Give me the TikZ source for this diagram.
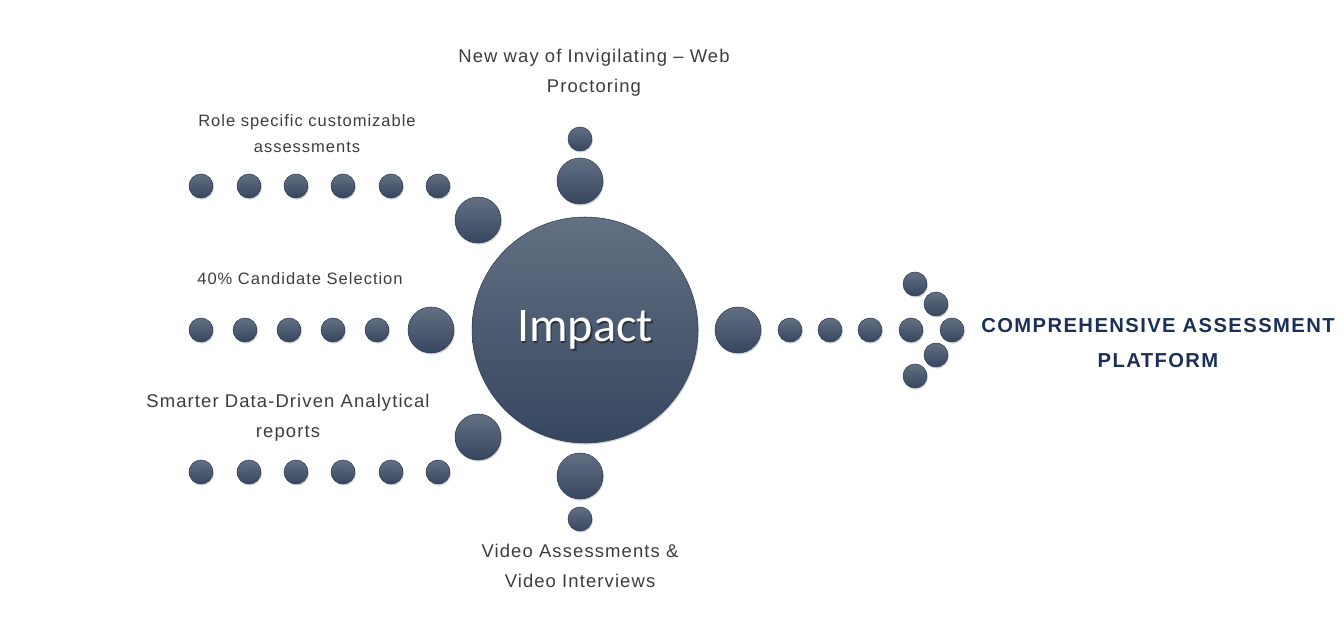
\documentclass[tikz,border=0pt]{standalone}
\usepackage{fontspec}
\setmainfont{Liberation Sans}
\newfontfamily\labelfont[LetterSpace=6]{Liberation Sans}
\newfontfamily\titlefont[LetterSpace=7]{Liberation Sans}
\newfontfamily\impactfont{Carlito}
\usetikzlibrary{shadows}
\definecolor{dottop}{HTML}{637083}
\definecolor{dotbottom}{HTML}{36465F}
\definecolor{dotline}{HTML}{2E3B50}
\definecolor{labelgray}{HTML}{3C3C3C}
\definecolor{navy}{HTML}{1B2F57}
\tikzset{
  dot/.style={circle,draw=dotline,line width=0.3pt,inner sep=0pt,
    top color=dottop,bottom color=dotbottom,minimum size=#1*0.02cm,
    drop shadow={shadow xshift=0.5pt,shadow yshift=-0.9pt,opacity=0.35}},
  label/.style={text=labelgray,align=center,
    font=\labelfont\fontsize{10.5}{17}\selectfont},
  smalllabel/.style={label,font=\labelfont\fontsize{9.4}{14.7}\selectfont},
}
\begin{document}
\begin{tikzpicture}[x=0.02cm,y=-0.02cm]
\useasboundingbox (0,0) rectangle (1344,628);
% centre
\node[dot=226] (impact) at (585,330) {};
\node[text=black,opacity=0.45,font=\impactfont\fontsize{27.5}{27.5}\selectfont]
  at ([xshift=0.8pt,yshift=-0.9pt]impact.center) {Impact};
\node[text=white,font=\impactfont\fontsize{27.5}{27.5}\selectfont]
  (impacttext) at (impact.center) {Impact};
% inner ring
\node[dot=46] (top) at (580,181) {};
\node[dot=24] (topsmall) at (580,139) {};
\node[dot=46] (bottom) at (580,476) {};
\node[dot=24] (bottomsmall) at (580,519) {};
\node[dot=46] (upleft) at (478,220) {};
\node[dot=46] (left) at (431,330) {};
\node[dot=46] (lowleft) at (478,437) {};
\node[dot=46] (right) at (738,330) {};
% rows to the left
\foreach \x [count=\i] in {201,249,296,343,391,438}
  \node[dot=24] (up\i) at (\x,186) {};
\foreach \x [count=\i] in {201,245,289,333,377}
  \node[dot=24] (mid\i) at (\x,330) {};
\foreach \x [count=\i] in {201,249,296,343,391,438}
  \node[dot=24] (low\i) at (\x,472) {};
% arrow to the right
\foreach \x [count=\i] in {790,830,870,911}
  \node[dot=24] (shaft\i) at (\x,330) {};
\node[dot=24] (head1) at (915,284) {};
\node[dot=24] (head2) at (936,304) {};
\node[dot=24] (head3) at (952,330) {};
\node[dot=24] (head4) at (936,355) {};
\node[dot=24] (head5) at (915,376) {};
% texts
\node[label] (proctor) at (594,73)
  {New way of Invigilating – Web\\Proctoring};
\node[smalllabel] (role) at (307,134)
  {Role specific customizable\\assessments};
\node[smalllabel] (select) at (300,279) {40\% Candidate Selection};
\node[label] (reports) at (288,418)
  {Smarter Data-Driven Analytical\\reports};
\node[label] (video) at (580,566)
  {Video Assessments \&\\Video Interviews};
\node[text=navy,align=center,font=\titlefont\bfseries\fontsize{11.5}{20.4}\selectfont]
  (platform) at (1158,343) {COMPREHENSIVE ASSESSMENT\\PLATFORM};
\end{tikzpicture}
\end{document}
